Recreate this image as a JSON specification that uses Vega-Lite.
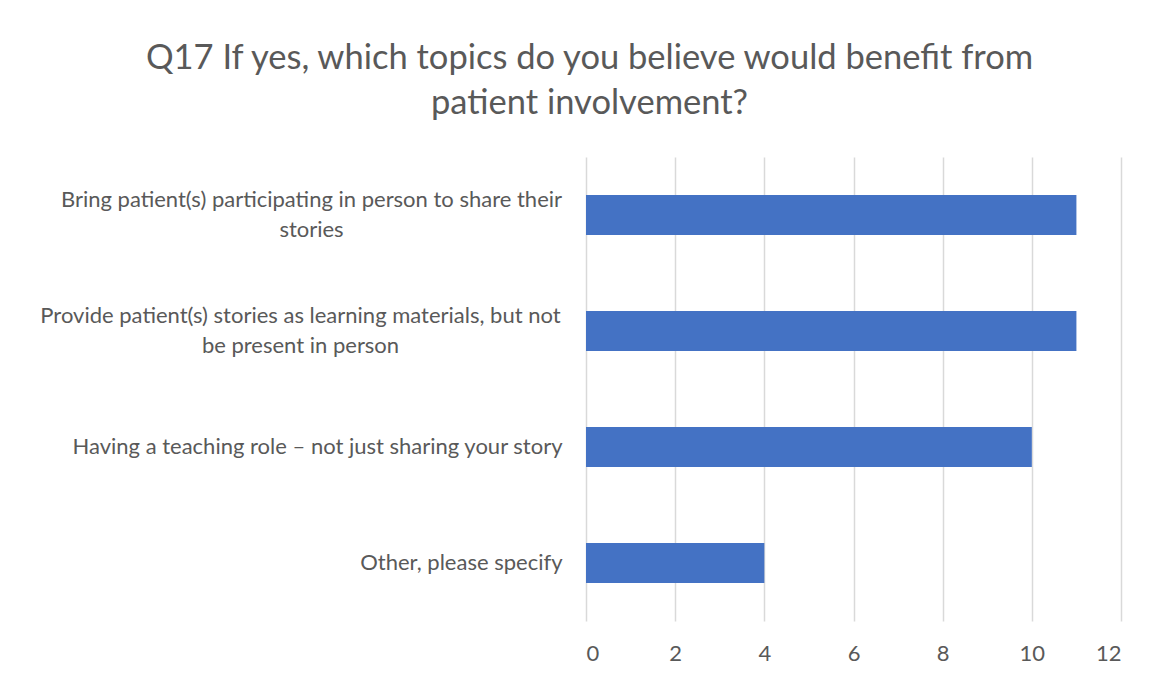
{
  "$schema": "https://vega.github.io/schema/vega-lite/v6.json",
  "width": 535,
  "height": 464,
  "autosize": {"type": "none"},
  "padding": {"left": 586, "top": 157, "right": 34, "bottom": 54},
  "background": "white",
  "title": {
    "text": ["Q17 If yes, which topics do you believe would benefit from", "patient involvement?"],
    "font": "Lato",
    "fontSize": 34.5,
    "fontWeight": "normal",
    "color": "#595959",
    "anchor": "middle",
    "dx": -264,
    "lineHeight": 45,
    "offset": 36
  },
  "data": {
    "values": [
      {"topic": "Bring patient(s) participating in person to share their stories", "count": 11},
      {"topic": "Provide patient(s) stories as learning materials, but not be present in person", "count": 11},
      {"topic": "Having a teaching role – not just sharing your story", "count": 10},
      {"topic": "Other, please specify", "count": 4}
    ]
  },
  "mark": {"type": "bar", "color": "#4472C4"},
  "encoding": {
    "y": {
      "field": "topic",
      "type": "nominal",
      "sort": null,
      "scale": {"paddingInner": 0.655, "paddingOuter": 0.3275},
      "axis": {
        "title": null,
        "domain": false,
        "ticks": false,
        "labelFont": "Lato",
        "labelFontSize": 22,
        "labelColor": "#595959",
        "labelLimit": 0,
        "labelLineHeight": 30,
        "labelExpr": "datum.value == 'Bring patient(s) participating in person to share their stories' ? ['Bring patient(s) participating in person to share their', 'stories'] : datum.value == 'Provide patient(s) stories as learning materials, but not be present in person' ? ['Provide patient(s) stories as learning materials, but not', 'be present in person'] : datum.label",
        "labelAlign": {
          "condition": {"test": "indexof(datum.value, 'Bring') == 0 || indexof(datum.value, 'Provide') == 0", "value": "center"},
          "value": "right"
        },
        "labelOffset": {
          "condition": {"test": "indexof(datum.value, 'Bring') == 0 || indexof(datum.value, 'Provide') == 0", "value": -15},
          "value": 0
        },
        "labelPadding": {
          "condition": [
            {"test": "indexof(datum.value, 'Bring') == 0", "value": 275},
            {"test": "indexof(datum.value, 'Provide') == 0", "value": 286}
          ],
          "value": 24
        }
      }
    },
    "x": {
      "field": "count",
      "type": "quantitative",
      "scale": {"domain": [0, 12]},
      "axis": {
        "title": null,
        "domain": false,
        "ticks": false,
        "values": [0, 2, 4, 6, 8, 10, 12],
        "labelFont": "Lato",
        "labelFontSize": 22,
        "labelColor": "#595959",
        "labelPadding": 22,
        "gridColor": "#d9d9d9",
        "gridWidth": 1.5
      }
    }
  },
  "config": {"view": {"stroke": null}}
}
